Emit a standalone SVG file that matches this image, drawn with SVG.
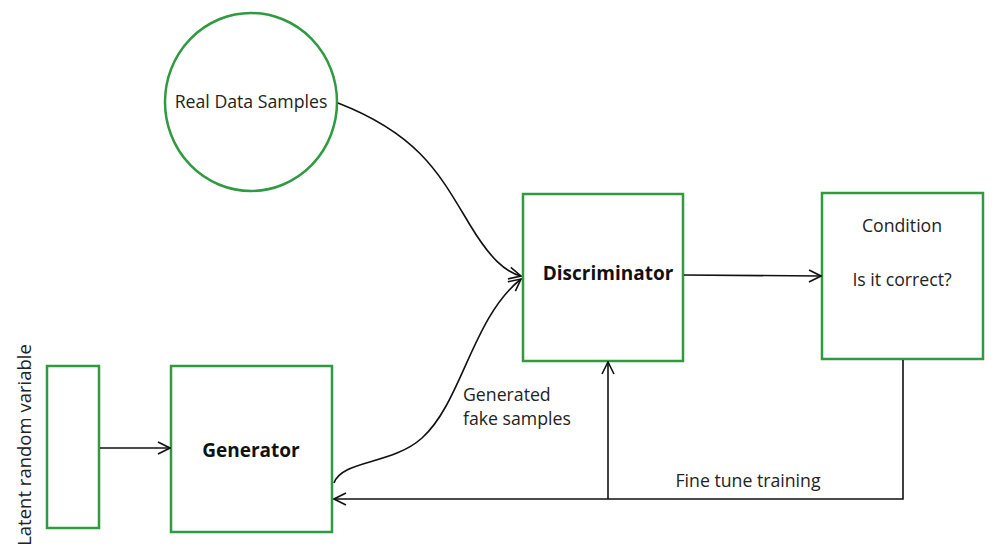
<svg xmlns="http://www.w3.org/2000/svg" width="1000" height="560" viewBox="0 0 1000 560">
<style>
.box{fill:#fff;stroke:#2f9a40;stroke-width:2.5}
.t{font-family:"Open Sans","Liberation Sans",sans-serif;font-size:17.7px;fill:#222}
.b{font-family:"Open Sans","Liberation Sans",sans-serif;font-size:19px;font-weight:bold;fill:#111}
.c{fill:none;stroke:#111;stroke-width:1.6}
</style>
<defs>
<marker id="ah" viewBox="0 0 14 14" refX="13" refY="7" markerWidth="14" markerHeight="14" markerUnits="userSpaceOnUse" orient="auto">
<polyline points="1,1 13,7 1,13" fill="none" stroke="#111" stroke-width="1.6"/>
</marker>
</defs>
<rect width="1000" height="560" fill="#fff"/>
<g id="real-data">
<ellipse class="box" cx="251" cy="102" rx="86" ry="89"/>
<text class="t" x="251" y="108" text-anchor="middle">Real Data Samples</text>
</g>
<g id="discriminator">
<rect class="box" x="523" y="194" width="160" height="167"/>
<text class="b" x="608" y="280" text-anchor="middle">Discriminator</text>
</g>
<g id="condition">
<rect class="box" x="822" y="193" width="161" height="166"/>
<text class="t" x="902" y="232" text-anchor="middle">Condition</text>
<text class="t" x="902" y="286" text-anchor="middle">Is it correct?</text>
</g>
<g id="latent">
<rect class="box" x="47" y="366" width="52" height="162"/>
<text class="t" transform="translate(31,445) rotate(-90)" text-anchor="middle" style="font-size:18.5px">Latent random variable</text>
</g>
<g id="generator">
<rect class="box" x="171" y="366" width="161" height="166"/>
<text class="b" x="251" y="457" text-anchor="middle">Generator</text>
</g>
<g id="connectors">
<path class="c" d="M338,103 C420,135 440,175 470,225 C490,258 505,272 521,276" marker-end="url(#ah)"/>
<path class="c" d="M334,483 C342,460 392,465 422,438 C462,402 472,318 521,279" marker-end="url(#ah)"/>
<line class="c" x1="100" y1="448" x2="170" y2="448" marker-end="url(#ah)"/>
<line class="c" x1="684" y1="275" x2="821" y2="276" marker-end="url(#ah)"/>
<polyline class="c" points="903,360 903,499 334,499" marker-end="url(#ah)"/>
<line class="c" x1="608" y1="499" x2="608" y2="362" marker-end="url(#ah)"/>
<text class="t" x="463" y="401">Generated</text>
<text class="t" x="463" y="425">fake samples</text>
<text class="t" x="748" y="487" text-anchor="middle">Fine tune training</text>
</g>
</svg>
